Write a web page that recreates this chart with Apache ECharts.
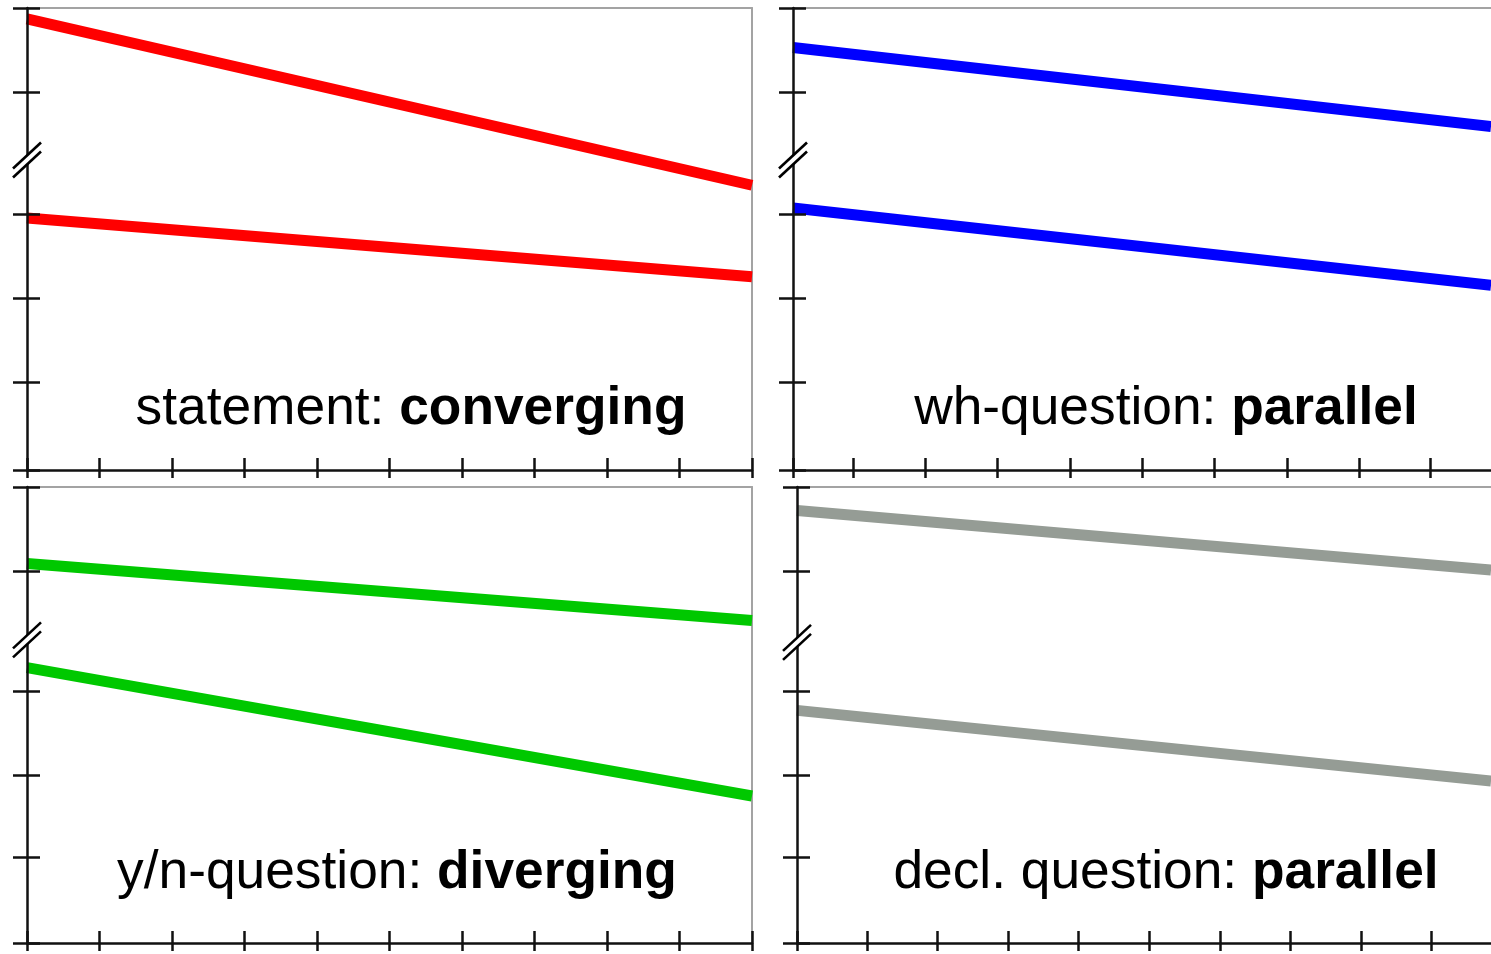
<!DOCTYPE html>
<html>
<head>
<meta charset="utf-8">
<script src="https://cdn.jsdelivr.net/npm/echarts@6/dist/echarts.min.js"></script>
<style>
html,body{margin:0;padding:0;background:#fff;}
#chart{width:1491px;height:954px;}
</style>
</head>
<body>
<div id="chart"></div>
<script>
// ---------- data (abstract pitch units, one y tick step = 1 unit) ----------
const statementHigh = [[0, 5.37], [10, 3.39]];
const statementLow  = [[0, 3.00], [10, 2.30]];
const whHigh = [[0, 5.03], [9.65, 4.09]];
const whLow  = [[0, 3.12], [9.65, 2.20]];
const ynHigh = [[0, 4.52], [10, 3.84]];
const ynLow  = [[0, 3.28], [10, 1.75]];
const declHigh = [[0, 5.15], [9.83, 4.44]];
const declLow  = [[0, 2.77], [9.83, 1.93]];

// axis ranges and ticks
const topYMax = 5.5;
const topYTicks = [0, 1.04, 2.04, 3.04, 4.5, 5.5];
const bottomYMax = 5.43;
const bottomYTicks = [0, 1.02, 2.0, 3.0, 4.43, 5.43];
const leftXMax = 10;
const leftXTicks = [0, 1, 2, 3, 4, 5, 6, 7, 8, 9, 10];
const trXMax = 9.65;
const trXTicks = [0, 0.83, 1.83, 2.83, 3.83, 4.83, 5.83, 6.83, 7.83, 8.81];
const brXMax = 9.83;
const brXTicks = [0, 0.99, 1.99, 2.99, 3.99, 4.99, 5.99, 6.99, 7.99, 8.99];
const breaks = [3.69, 3.69, 3.61, 3.58];

// labels
const labelPlain = ['statement: ', 'wh-question: ', 'y/n-question: ', 'decl. question: '];
const labelBold  = ['converging', 'parallel', 'diverging', 'parallel'];
const colors = ['#ff0000', '#0000ff', '#00c800', '#959c95'];

const panels = [
  {grid: {left: 27, top: 8, width: 725, height: 462}, xMax: leftXMax, xTicks: leftXTicks, yMax: topYMax, yTicks: topYTicks, lines: [statementHigh, statementLow], rightBorder: true, label: [411, 409]},
  {grid: {left: 793, top: 8, width: 698, height: 462}, xMax: trXMax, xTicks: trXTicks, yMax: topYMax, yTicks: topYTicks, lines: [whHigh, whLow], rightBorder: false, label: [1166, 409]},
  {grid: {left: 27, top: 487, width: 725, height: 456}, xMax: leftXMax, xTicks: leftXTicks, yMax: bottomYMax, yTicks: bottomYTicks, lines: [ynHigh, ynLow], rightBorder: true, label: [397, 873]},
  {grid: {left: 797, top: 487, width: 694, height: 456}, xMax: brXMax, xTicks: brXTicks, yMax: bottomYMax, yTicks: bottomYTicks, lines: [declHigh, declLow], rightBorder: false, label: [1166, 873]}
];

const AXIS = '#111';
const BORDER = '#a3a3a3';
const AW = 2.5;

const grid = [], xAxis = [], yAxis = [], series = [], graphic = [];

function breakItem(params, api) {
  const p = api.coord([api.value(0), api.value(1)]);
  const dx = 14, dy = 13, g = 4.5;
  return {
    type: 'group',
    children: [
      {type: 'polygon', shape: {points: [[p[0] - dx, p[1] + dy - g], [p[0] + dx, p[1] - dy - g], [p[0] + dx, p[1] - dy + g], [p[0] - dx, p[1] + dy + g]]}, style: {fill: '#fff'}},
      {type: 'line', shape: {x1: p[0] - dx, y1: p[1] + dy - g, x2: p[0] + dx, y2: p[1] - dy - g}, style: {stroke: '#000', lineWidth: 2.6}},
      {type: 'line', shape: {x1: p[0] - dx, y1: p[1] + dy + g, x2: p[0] + dx, y2: p[1] - dy + g}, style: {stroke: '#000', lineWidth: 2.6}}
    ]
  };
}

panels.forEach((pn, i) => {
  grid.push(Object.assign({containLabel: false, show: false}, pn.grid));
  const xi = xAxis.length, yi = yAxis.length;
  // main bottom x axis: line + ticks below
  xAxis.push({type: 'value', gridIndex: i, position: 'bottom', min: 0, max: pn.xMax, z: 5,
    axisLine: {show: true, onZero: false, lineStyle: {color: AXIS, width: AW}},
    axisTick: {show: true, inside: false, length: 8, customValues: pn.xTicks, lineStyle: {color: AXIS, width: AW}},
    axisLabel: {show: false}, splitLine: {show: false}});
  // ticks above
  xAxis.push({type: 'value', gridIndex: i, position: 'bottom', min: 0, max: pn.xMax, z: 5,
    axisLine: {show: false, onZero: false},
    axisTick: {show: true, inside: true, length: 12, customValues: pn.xTicks, lineStyle: {color: AXIS, width: AW}},
    axisLabel: {show: false}, splitLine: {show: false}});
  // top border
  xAxis.push({type: 'value', gridIndex: i, position: 'top', min: 0, max: pn.xMax, z: 1,
    axisLine: {show: true, onZero: false, lineStyle: {color: BORDER, width: 2}},
    axisTick: {show: false}, axisLabel: {show: false}, splitLine: {show: false}});
  // left y axis
  yAxis.push({type: 'value', gridIndex: i, position: 'left', min: 0, max: pn.yMax, z: 5,
    axisLine: {show: true, onZero: false, lineStyle: {color: AXIS, width: AW}},
    axisTick: {show: true, inside: false, length: 14, customValues: pn.yTicks, lineStyle: {color: AXIS, width: AW}},
    axisLabel: {show: false}, splitLine: {show: false}});
  yAxis.push({type: 'value', gridIndex: i, position: 'left', min: 0, max: pn.yMax, z: 5,
    axisLine: {show: false, onZero: false},
    axisTick: {show: true, inside: true, length: 13, customValues: pn.yTicks, lineStyle: {color: AXIS, width: AW}},
    axisLabel: {show: false}, splitLine: {show: false}});
  if (pn.rightBorder) {
    yAxis.push({type: 'value', gridIndex: i, position: 'right', min: 0, max: pn.yMax, z: 1,
      axisLine: {show: true, onZero: false, lineStyle: {color: BORDER, width: 2}},
      axisTick: {show: false}, axisLabel: {show: false}, splitLine: {show: false}});
  }
  pn.lines.forEach(d => {
    series.push({type: 'line', xAxisIndex: xi, yAxisIndex: yi, data: d, symbol: 'none', z: 3,
      lineStyle: {color: colors[i], width: 11, cap: 'butt'}, silent: true});
  });
  series.push({type: 'custom', xAxisIndex: xi, yAxisIndex: yi, data: [[0, breaks[i]]], clip: false, z: 10,
    renderItem: breakItem, silent: true});
  graphic.push({type: 'text', x: pn.label[0], y: pn.label[1], z: 20,
    style: {text: '{n|' + labelPlain[i] + '}{b|' + labelBold[i] + '}', align: 'center', verticalAlign: 'middle',
      rich: {
        n: {fontFamily: 'Liberation Sans, Arial, sans-serif', fontSize: 53.3, fontWeight: 'normal', fill: '#000'},
        b: {fontFamily: 'Liberation Sans, Arial, sans-serif', fontSize: 53.3, fontWeight: 'bold', fill: '#000'}
      }}});
});

const chart = echarts.init(document.getElementById('chart'), null, {renderer: 'canvas'});
chart.setOption({
  animation: false,
  backgroundColor: '#fff',
  grid, xAxis, yAxis, series, graphic
});
</script>
</body>
</html>
